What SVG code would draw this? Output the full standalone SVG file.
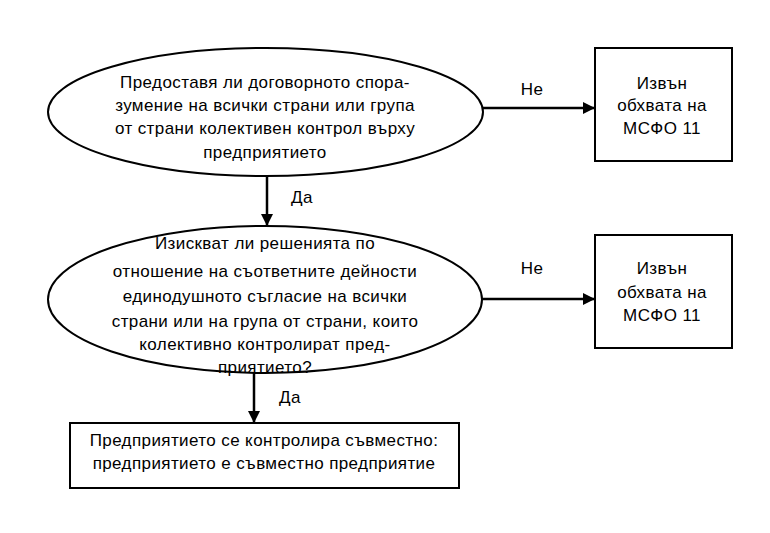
<svg xmlns="http://www.w3.org/2000/svg" width="770" height="533" viewBox="0 0 770 533">
<defs>
<style>
.shape{fill:#fff;stroke:#000;stroke-width:2}
.t{font-family:"Liberation Sans",Arial,sans-serif;font-size:17px;letter-spacing:0.4px;fill:#000;text-anchor:middle}
.c{stroke:#000;stroke-width:2.5;fill:none}
</style>
<marker id="ah" markerWidth="12" markerHeight="12" viewBox="0 0 12 12" refX="12" refY="6" orient="auto" markerUnits="userSpaceOnUse">
<path d="M0,0 L12,6 L0,12 Z" fill="#000"/>
</marker>
</defs>
<rect width="770" height="533" fill="#fff"/>
<g id="connectors">
<line class="c" x1="483" y1="108" x2="595" y2="108" marker-end="url(#ah)"/>
<line class="c" x1="267" y1="176" x2="267" y2="226" marker-end="url(#ah)"/>
<line class="c" x1="482" y1="299" x2="595" y2="299" marker-end="url(#ah)"/>
<line class="c" x1="254" y1="373" x2="254" y2="423" marker-end="url(#ah)"/>
<text class="t" x="532" y="95">Не</text>
<text class="t" x="302" y="203">Да</text>
<text class="t" x="532" y="274">Не</text>
<text class="t" x="290" y="403">Да</text>
</g>
<g id="q1">
<ellipse class="shape" cx="265.5" cy="112" rx="217.5" ry="64"/>
<text class="t" x="265" y="88">Предоставя ли договорното спора-</text>
<text class="t" x="265" y="111">зумение на всички страни или група</text>
<text class="t" x="265" y="134">от страни колективен контрол върху</text>
<text class="t" x="265" y="158">предприятието</text>
</g>
<g id="out1">
<rect class="shape" x="595" y="48" width="137" height="113"/>
<text class="t" x="662" y="89">Извън</text>
<text class="t" x="662" y="111">обхвата на</text>
<text class="t" x="662" y="134">МСФО 11</text>
</g>
<g id="q2">
<ellipse class="shape" cx="265" cy="299.5" rx="217" ry="73.5"/>
<text class="t" x="265" y="249">Изискват ли решенията по</text>
<text class="t" x="265" y="277">отношение на съответните дейности</text>
<text class="t" x="265" y="302">единодушното съгласие на всички</text>
<text class="t" x="265" y="327">страни или на група от страни, които</text>
<text class="t" x="265" y="350">колективно контролират пред-</text>
<text class="t" x="265" y="373">приятието?</text>
</g>
<g id="out2">
<rect class="shape" x="595" y="235" width="137" height="113"/>
<text class="t" x="662" y="274">Извън</text>
<text class="t" x="662" y="298">обхвата на</text>
<text class="t" x="662" y="321">МСФО 11</text>
</g>
<g id="result">
<rect class="shape" x="70" y="423" width="389" height="65"/>
<text class="t" x="264" y="446">Предприятието се контролира съвместно:</text>
<text class="t" x="264" y="469">предприятието е съвместно предприятие</text>
</g>
</svg>
